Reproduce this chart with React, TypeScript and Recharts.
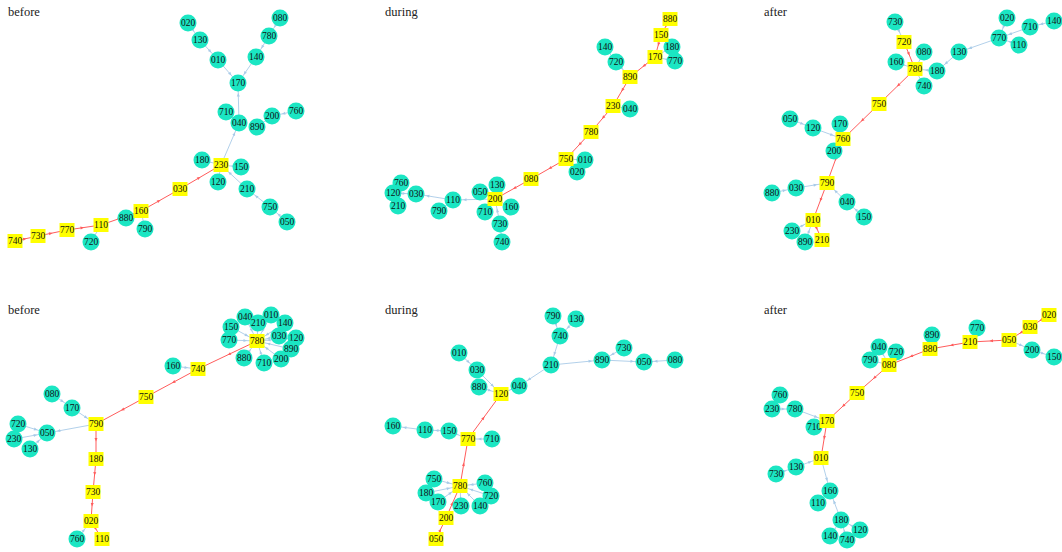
import React from 'react';
import { ScatterChart, Scatter, XAxis, YAxis, ReferenceLine } from 'recharts';

type N = [string, number, number];
type E = [string, string];

const PW = 354;
const PH = 276;
const CYAN = '#1be6c3';
const YELLOW = '#ffff00';
const RED = '#ff5c5c';
const BLUE = '#a9cbe8';

const titles = ['before', 'during', 'after', 'before', 'during', 'after'];
const titleY = [5, 5, 5, 303, 303, 303];
const titleX = [8, 385, 764, 8, 385, 764];

// panel 1 - before (top)
const p1Squares: N[] = [['740', 15, 241], ['730', 38, 236], ['770', 67, 230], ['110', 101, 225], ['160', 141, 211], ['030', 180, 189], ['230', 221, 165]];
const p1Circles: N[] = [['020', 188, 23], ['080', 280, 18], ['130', 200, 40], ['780', 269, 36], ['010', 218, 60], ['140', 256, 57], ['170', 238, 83], ['710', 226, 112], ['040', 239, 123], ['200', 272, 116], ['760', 296, 111], ['890', 257, 127], ['180', 202, 160], ['150', 241, 167], ['120', 218, 182], ['210', 247, 189], ['750', 270, 207], ['050', 287, 222], ['880', 126, 218], ['790', 145, 229], ['720', 91, 242]];
const p1Red: E[] = [['740', '730'], ['730', '770'], ['770', '110'], ['110', '160'], ['160', '030'], ['030', '230']];
const p1Blue: E[] = [['130', '010'], ['010', '170'], ['780', '140'], ['140', '170'], ['080', '780'], ['020', '130'], ['040', '170'], ['710', '040'], ['760', '200'], ['200', '890'], ['230', '040'], ['180', '230'], ['150', '230'], ['120', '230'], ['210', '230'], ['750', '210'], ['050', '750'], ['790', '160'], ['880', '160'], ['720', '110']];

// panel 2 - during (top)
const p2Squares: N[] = [['880', 670, 19], ['150', 661, 35], ['170', 655, 57], ['890', 630, 77], ['230', 613, 106], ['780', 591, 132], ['750', 566, 159], ['080', 531, 179], ['200', 495, 199]];
const p2Circles: N[] = [['140', 605, 47], ['180', 672, 47], ['770', 675, 61], ['720', 616, 62], ['040', 630, 109], ['010', 585, 160], ['020', 577, 172], ['760', 401, 183], ['130', 497, 185], ['120', 393, 193], ['030', 416, 194], ['050', 480, 192], ['110', 453, 200], ['210', 398, 206], ['790', 439, 211], ['710', 485, 212], ['160', 511, 207], ['730', 500, 224], ['740', 502, 242]];
const p2Red: E[] = [['880', '150'], ['150', '170'], ['170', '890'], ['890', '230'], ['230', '780'], ['780', '750'], ['750', '080'], ['080', '200']];
const p2Blue: E[] = [['770', '170'], ['180', '170'], ['720', '890'], ['140', '720'], ['040', '230'], ['010', '750'], ['020', '010'], ['110', '030'], ['200', '110'], ['120', '030'], ['760', '120'], ['210', '120'], ['790', '110'], ['050', '200'], ['130', '200'], ['710', '200'], ['160', '200'], ['730', '200'], ['740', '730']];

// panel 3 - after (top)
const p3Squares: N[] = [['720', 904, 42], ['780', 915, 69], ['750', 879, 104], ['760', 843, 139], ['790', 827, 183], ['010', 813, 220], ['210', 822, 240]];
const p3Circles: N[] = [['730', 895, 22], ['020', 1007, 18], ['140', 1054, 21], ['710', 1030, 27], ['770', 999, 38], ['110', 1019, 45], ['080', 924, 52], ['130', 959, 52], ['160', 896, 62], ['180', 937, 71], ['740', 924, 86], ['050', 790, 119], ['170', 840, 124], ['120', 813, 128], ['200', 834, 151], ['030', 796, 188], ['880', 772, 193], ['040', 847, 202], ['150', 864, 217], ['230', 792, 231], ['890', 805, 242]];
const p3Red: E[] = [['720', '780'], ['780', '750'], ['750', '760'], ['760', '790'], ['790', '010'], ['010', '210']];
const p3Blue: E[] = [['730', '720'], ['160', '780'], ['080', '780'], ['180', '780'], ['740', '780'], ['130', '180'], ['770', '130'], ['710', '770'], ['140', '710'], ['020', '770'], ['110', '770'], ['050', '120'], ['120', '760'], ['170', '760'], ['200', '760'], ['030', '790'], ['880', '030'], ['040', '790'], ['150', '040'], ['230', '010'], ['890', '010']];

// panel 4 - before (bottom)
const p4Squares: N[] = [['780', 257, 341], ['740', 198, 369], ['750', 146, 397], ['790', 96, 424], ['180', 96, 459], ['730', 93, 492], ['020', 91, 521], ['110', 102, 539]];
const p4Circles: N[] = [['040', 245, 317], ['010', 271, 315], ['210', 258, 323], ['140', 285, 323], ['150', 231, 327], ['030', 279, 336], ['120', 296, 338], ['770', 229, 340], ['890', 291, 349], ['880', 244, 358], ['200', 281, 359], ['710', 264, 363], ['160', 173, 366], ['080', 52, 394], ['170', 72, 408], ['720', 18, 424], ['050', 47, 433], ['230', 14, 439], ['130', 30, 449], ['760', 77, 539]];
const p4Red: E[] = [['780', '740'], ['740', '750'], ['750', '790'], ['790', '180'], ['180', '730'], ['730', '020'], ['020', '110']];
const p4Blue: E[] = [['040', '780'], ['010', '780'], ['210', '780'], ['140', '780'], ['150', '780'], ['030', '780'], ['120', '780'], ['770', '780'], ['890', '780'], ['880', '780'], ['200', '780'], ['710', '780'], ['160', '740'], ['080', '170'], ['170', '790'], ['790', '050'], ['720', '050'], ['230', '050'], ['130', '050'], ['760', '020']];

// panel 5 - during (bottom)
const p5Squares: N[] = [['120', 501, 394], ['770', 468, 439], ['780', 460, 486], ['200', 446, 518], ['050', 436, 539]];
const p5Circles: N[] = [['790', 553, 316], ['130', 576, 319], ['740', 560, 336], ['010', 459, 353], ['730', 624, 348], ['890', 602, 360], ['050', 644, 362], ['080', 675, 360], ['210', 551, 365], ['030', 477, 370], ['880', 479, 387], ['040', 519, 386], ['160', 393, 426], ['110', 425, 430], ['150', 449, 431], ['710', 492, 439], ['750', 434, 479], ['760', 485, 483], ['180', 426, 493], ['720', 491, 496], ['170', 438, 502], ['230', 461, 506], ['140', 480, 506]];
const p5Red: E[] = [['050', '200'], ['200', '780'], ['780', '770'], ['770', '120']];
const p5Blue: E[] = [['010', '030'], ['030', '120'], ['880', '120'], ['040', '120'], ['210', '040'], ['740', '210'], ['790', '740'], ['130', '740'], ['210', '890'], ['730', '890'], ['890', '050'], ['080', '050'], ['150', '110'], ['110', '160'], ['150', '770'], ['710', '770'], ['750', '780'], ['180', '780'], ['170', '780'], ['230', '780'], ['140', '780'], ['720', '780'], ['760', '780']];

// panel 6 - after (bottom)
const p6Squares: N[] = [['020', 1049, 315], ['030', 1030, 327], ['050', 1009, 340], ['210', 970, 342], ['880', 930, 349], ['080', 889, 365], ['750', 857, 393], ['170', 827, 421], ['010', 821, 458]];
const p6Circles: N[] = [['770', 977, 328], ['890', 932, 335], ['040', 879, 347], ['720', 896, 352], ['200', 1032, 350], ['150', 1054, 357], ['790', 870, 360], ['760', 780, 395], ['230', 772, 409], ['780', 795, 409], ['710', 814, 427], ['130', 796, 467], ['730', 776, 474], ['160', 830, 491], ['110', 818, 503], ['180', 841, 520], ['120', 860, 530], ['140', 830, 536], ['740', 847, 540]];
const p6Red: E[] = [['020', '030'], ['030', '050'], ['050', '210'], ['210', '880'], ['880', '080'], ['080', '750'], ['750', '170'], ['170', '010']];
const p6Blue: E[] = [['770', '210'], ['890', '880'], ['050', '200'], ['200', '150'], ['040', '080'], ['720', '080'], ['790', '080'], ['760', '230'], ['230', '780'], ['780', '170'], ['710', '170'], ['130', '010'], ['730', '130'], ['010', '160'], ['110', '160'], ['180', '160'], ['120', '180'], ['140', '180'], ['740', '180']];

const panels = [
  { squares: p1Squares, circles: p1Circles, red: p1Red, blue: p1Blue },
  { squares: p2Squares, circles: p2Circles, red: p2Red, blue: p2Blue },
  { squares: p3Squares, circles: p3Circles, red: p3Red, blue: p3Blue },
  { squares: p4Squares, circles: p4Circles, red: p4Red, blue: p4Blue },
  { squares: p5Squares, circles: p5Circles, red: p5Red, blue: p5Blue },
  { squares: p6Squares, circles: p6Circles, red: p6Red, blue: p6Blue },
];

const labelStyle = { fontFamily: '"Liberation Serif", serif', fontSize: 9.5, fill: '#111' };

const CircleNode = (props: any) => {
  const { cx, cy, payload } = props;
  return (
    <g>
      <circle cx={cx} cy={cy} r={8.5} fill={CYAN} />
      <text x={cx} y={cy} textAnchor="middle" dominantBaseline="central" style={labelStyle}>
        {payload.label}
      </text>
    </g>
  );
};

const SquareNode = (props: any) => {
  const { cx, cy, payload } = props;
  return (
    <g>
      <rect x={cx - 7.5} y={cy - 7} width={15} height={14} fill={YELLOW} />
      <text x={cx} y={cy} textAnchor="middle" dominantBaseline="central" style={labelStyle}>
        {payload.label}
      </text>
    </g>
  );
};

// line with a small arrowhead; mid = arrow halfway, else just before the target node
const edgeShape = (color: string, mid: boolean) => (props: any) => {
  const { x1, y1, x2, y2 } = props;
  if (x1 == null || x2 == null) return <g />;
  const dx = x2 - x1;
  const dy = y2 - y1;
  const len = Math.hypot(dx, dy) || 1;
  const ux = dx / len;
  const uy = dy / len;
  const t = mid ? 0.5 : Math.max(0.5, 1 - 10 / len);
  const tx = x1 + dx * t;
  const ty = y1 + dy * t;
  const L = 3.5;
  const w = 1.5;
  const pts = `${tx},${ty} ${tx - ux * L - uy * w},${ty - uy * L + ux * w} ${tx - ux * L + uy * w},${ty - uy * L - ux * w}`;
  return (
    <g>
      <line x1={x1} y1={y1} x2={x2} y2={y2} stroke={color} strokeWidth={mid ? 1 : 0.9} />
      <polygon points={pts} fill={color} />
    </g>
  );
};

const toData = (list: N[]) => list.map(([label, x, y]) => ({ label, x, y }));

const find = (first: N[], second: N[], name: string) => {
  const n = first.find((d) => d[0] === name) || second.find((d) => d[0] === name);
  return n ? { x: n[1], y: n[2] } : { x: 0, y: 0 };
};

const Panel = ({ idx }: { idx: number }) => {
  const p = panels[idx];
  const x0 = (idx % 3) * PW;
  const y0 = Math.floor(idx / 3) * PH;
  return (
    <div style={{ position: 'absolute', left: x0, top: y0, width: PW, height: PH }}>
      <ScatterChart width={PW} height={PH} margin={{ top: 0, right: 0, bottom: 0, left: 0 }}>
        <XAxis type="number" dataKey="x" domain={[x0, x0 + PW]} hide allowDataOverflow />
        <YAxis type="number" dataKey="y" domain={[y0, y0 + PH]} reversed hide allowDataOverflow />
        {p.blue.map(([a, b], i) => (
          <ReferenceLine
            key={'b' + i}
            segment={[find(p.circles, p.squares, a), find(p.circles, p.squares, b)]}
            shape={edgeShape(BLUE, false)}
          />
        ))}
        {p.red.map(([a, b], i) => (
          <ReferenceLine
            key={'r' + i}
            segment={[find(p.squares, p.circles, a), find(p.squares, p.circles, b)]}
            shape={edgeShape(RED, true)}
          />
        ))}
        <Scatter data={toData(p.circles)} shape={CircleNode} isAnimationActive={false} />
        <Scatter data={toData(p.squares)} shape={SquareNode} isAnimationActive={false} />
      </ScatterChart>
      <div
        style={{
          position: 'absolute',
          left: titleX[idx] - x0,
          top: titleY[idx] - y0,
          fontFamily: '"Liberation Serif", serif',
          fontSize: 12.5,
          color: '#222',
        }}
      >
        {titles[idx]}
      </div>
    </div>
  );
};

export default function App() {
  return (
    <div style={{ position: 'absolute', left: 0, top: 0, width: 1062, height: 552, background: '#fff' }}>
      {panels.map((_, i) => (
        <Panel key={i} idx={i} />
      ))}
    </div>
  );
}
